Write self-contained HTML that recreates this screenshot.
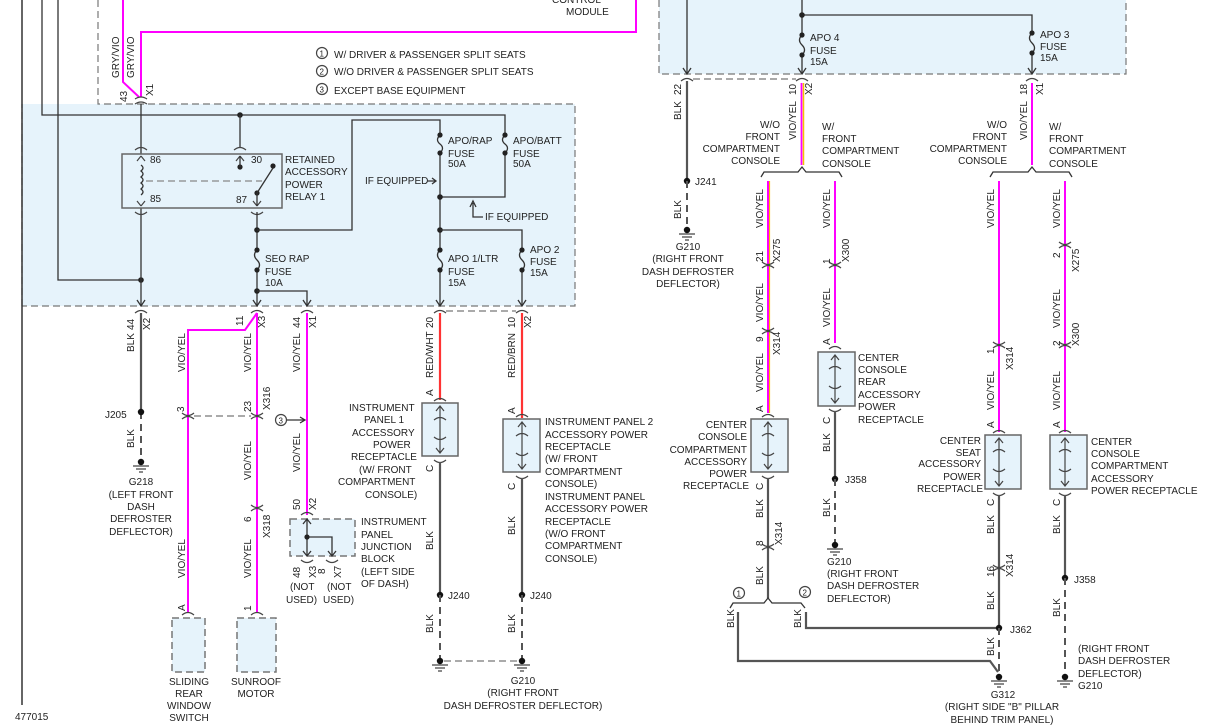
<!DOCTYPE html>
<html><head><meta charset="utf-8"><style>
html,body{margin:0;padding:0;background:#fff;}
svg{display:block;}
text{font-family:"Liberation Sans",Arial,sans-serif;font-size:10px;fill:#222;}
.g{stroke:#555;stroke-width:2.2;fill:none;}
.k{stroke:#333;stroke-width:1.3;fill:none;}
.p{stroke:#f0f;stroke-width:2;fill:none;}
.y{stroke:#f5c000;stroke-width:1;fill:none;}
.r{stroke:#f33;stroke-width:2.2;fill:none;}
.d{stroke:#555;stroke-width:2;fill:none;stroke-dasharray:7,5;}
.dl{stroke:#777;stroke-width:1.2;fill:none;stroke-dasharray:7,4;}
.box{fill:#e6f3fb;stroke:#666;stroke-width:1.5;}
.dbox{fill:#e6f3fb;stroke:#777;stroke-width:1.5;stroke-dasharray:7,4;}
.c{stroke:#444;stroke-width:1.2;fill:none;}
</style></head><body>
<svg width="1206" height="725" viewBox="0 0 1206 725" xmlns="http://www.w3.org/2000/svg">
<!-- blue boxes -->
<rect x="22" y="104" width="553" height="202" fill="#e6f3fb"/>
<path d="M98,0 V104 H575 V306 H22" class="dl"/>
<path d="M22,306 V104" class="dl"/>
<rect x="659" y="-2" width="467" height="76" fill="#e6f3fb"/>
<path d="M659,0 V74 H1126 V0" class="dl"/>

<!-- left frame line -->
<line x1="22" y1="0" x2="22" y2="705" stroke="#333" stroke-width="1.5"/>

<!-- top pink wires -->
<path d="M123,0 V82 L139,97" class="p"/>
<path d="M141,97 V32 H636 V0" class="p"/>
<text transform="rotate(-90 119 78)" x="119" y="78">GRY/VIO</text>
<text transform="rotate(-90 134 78)" x="134" y="78">GRY/VIO</text>
<text transform="rotate(-90 127 102)" x="127" y="102">43</text>
<text transform="rotate(-90 153 96)" x="153" y="96">X1</text>
<text x="552" y="3">CONTROL</text><text x="566" y="15">MODULE</text>

<!-- legend -->
<circle cx="322" cy="53" r="5.5" class="c"/><text x="319.5" y="56.5" style="font-size:8px">1</text>
<text x="334" y="58">W/ DRIVER &amp; PASSENGER SPLIT SEATS</text>
<circle cx="322" cy="71" r="5.5" class="c"/><text x="319.5" y="74.5" style="font-size:8px">2</text>
<text x="334" y="75">W/O DRIVER &amp; PASSENGER SPLIT SEATS</text>
<circle cx="322" cy="89" r="5.5" class="c"/><text x="319.5" y="92.5" style="font-size:8px">3</text>
<text x="334" y="94">EXCEPT BASE EQUIPMENT</text>

<!-- internal left wiring -->
<path d="M42,0 V115 H505 V197 H440" class="k"/>
<path d="M58,0 V280 H141" class="k"/>
<circle cx="141" cy="280" r="2.8" fill="#222"/>
<circle cx="240" cy="115" r="2.8" fill="#222"/>
<path d="M240,115 V148" class="k"/>
<path d="M141,104 V306" class="k"/>
<!-- connector 43 -->
<path d="M135,99 Q141,95 147,99 M135,104 Q141,100 147,104" class="c"/>

<!-- relay -->
<rect x="122" y="154" width="160" height="54" class="box"/>
<path d="M135,150 Q141,145 147,150 M234,150 Q240,145 246,150" class="c"/>
<path d="M135,212 Q141,217 147,212 M251,212 Q257,217 263,212" class="c"/>
<path d="M141,156 L137,161 M141,156 L145,161 M240,156 L236,161 M240,156 L244,161" class="c"/>
<path d="M141,206 L137,201 M141,206 L145,201 M257,206 L253,201 M257,206 L261,201" class="c"/>
<path d="M141,165 q4,3 0,6 q4,3 0,6 q4,3 0,6 q4,3 0,6 q4,3 0,6" class="k"/>
<line x1="146" y1="181" x2="262" y2="181" stroke="#888" stroke-width="1.2" stroke-dasharray="7,4"/>
<circle cx="240" cy="167" r="2.6" fill="#222"/>
<circle cx="273" cy="166" r="2.6" fill="#222"/>
<circle cx="257" cy="193" r="2.6" fill="#222"/>
<path d="M257,193 L273,168 M257,193 V206 M240,156 V167" class="k"/>
<text x="150" y="163">86</text><text x="251" y="163">30</text>
<text x="150" y="202">85</text><text x="236" y="203">87</text>
<text x="285" y="163">RETAINED</text><text x="285" y="175">ACCESSORY</text>
<text x="285" y="188">POWER</text><text x="285" y="200">RELAY 1</text>

<!-- relay 87 to fuses -->
<path d="M257,212 V306" class="k"/>
<circle cx="257" cy="230" r="2.8" fill="#222"/>
<path d="M257,230 H352 V120 H440 V306" class="k"/>
<path d="M505,115 V306" class="k" style="display:none"/>
<circle cx="440" cy="197" r="2.8" fill="#222"/>
<circle cx="440" cy="230" r="2.8" fill="#222"/>
<path d="M440,230 H522 V306" class="k"/>
<circle cx="257" cy="291" r="2.8" fill="#222"/>
<path d="M257,291 H307 V306" class="k"/>
<!-- fuses -->
<g fill="#e6f3fb">
<rect x="436" y="134" width="8" height="20"/><rect x="501" y="134" width="8" height="20"/>
<rect x="436" y="249" width="8" height="22"/><rect x="518" y="249" width="8" height="22"/>
<rect x="253" y="249" width="8" height="22"/>
</g>
<path d="M440,135 q-5,5 0,9 q5,4 0,9 M505,135 q-5,5 0,9 q5,4 0,9 M440,250 q-5,5 0,10 q5,5 0,10 M522,250 q-5,5 0,10 q5,5 0,10 M257,250 q-5,5 0,10 q5,5 0,10" class="k"/>
<g fill="#222">
<circle cx="440" cy="135" r="2.6"/><circle cx="440" cy="153" r="2.6"/>
<circle cx="505" cy="135" r="2.6"/><circle cx="505" cy="153" r="2.6"/>
<circle cx="440" cy="250" r="2.6"/><circle cx="440" cy="270" r="2.6"/>
<circle cx="522" cy="250" r="2.6"/><circle cx="522" cy="270" r="2.6"/>
<circle cx="257" cy="250" r="2.6"/><circle cx="257" cy="270" r="2.6"/>
</g>
<text x="448" y="144">APO/RAP</text><text x="448" y="157">FUSE</text><text x="448" y="167">50A</text>
<text x="513" y="144">APO/BATT</text><text x="513" y="157">FUSE</text><text x="513" y="167">50A</text>
<text x="365" y="184">IF EQUIPPED</text>
<path d="M427,181 H436 M432,178 L436,181 L432,184" class="k"/>
<path d="M473,203 V217 H483 M470,207 L473,201 L476,207" class="k"/>
<text x="485" y="220">IF EQUIPPED</text>
<text x="448" y="262">APO 1/LTR</text><text x="448" y="275">FUSE</text><text x="448" y="286">15A</text>
<text x="530" y="253">APO 2</text><text x="530" y="265">FUSE</text><text x="530" y="276">15A</text>
<text x="265" y="262">SEO RAP</text><text x="265" y="275">FUSE</text><text x="265" y="286">10A</text>
<!-- arrows at bottom of box -->
<path d="M137,300 L141,306 L145,300 M253,300 L257,306 L261,300 M303,300 L307,306 L311,300 M436,300 L440,306 L444,300 M518,300 L522,306 L526,300" class="k"/>
<!-- bottom connectors -->
<path d="M135,313 Q141,308 147,313 M301,313 Q307,308 313,313 M434,313 Q440,308 446,313 M516,313 Q522,308 528,313" class="c"/>
<path d="M446,311 H516" class="dl"/>

<!-- col 141 BLK -->
<path d="M141,313 V412" class="g"/>
<path d="M141,412 V462" class="d"/>
<circle cx="141" cy="412" r="3.2" fill="#111"/>
<circle cx="141" cy="462" r="3.2" fill="#111"/>
<path d="M133,466 H149 M136,469 H146 M139,472 H143" class="c"/>
<text transform="rotate(-90 134 330)" x="134" y="330">44</text>
<text transform="rotate(-90 150 330)" x="150" y="330">X2</text>
<text transform="rotate(-90 134 352)" x="134" y="352">BLK</text>
<text x="105" y="418">J205</text>
<text transform="rotate(-90 134 448)" x="134" y="448">BLK</text>
<text x="141" y="485" text-anchor="middle">G218</text>
<text x="141" y="498" text-anchor="middle">(LEFT FRONT</text>
<text x="141" y="510" text-anchor="middle">DASH</text>
<text x="141" y="522" text-anchor="middle">DEFROSTER</text>
<text x="141" y="535" text-anchor="middle">DEFLECTOR)</text>

<!-- col 257 / 188 pink -->
<path d="M257,313 V613" class="p"/>
<path d="M257,313 L245,330 H188 V613" class="p"/>
<path d="M251,313 Q257,308 263,313" class="c"/>
<path d="M182,413 Q188,418 194,413 M182,419 Q188,414 194,419 M251,413 Q257,418 263,413 M251,419 Q257,414 263,419" class="c"/>
<path d="M194,416 H251" class="dl"/>
<path d="M251,505 Q257,510 263,505 M251,511 Q257,506 263,511" class="c"/>
<path d="M182,615 Q188,610 194,615 M251,615 Q257,610 263,615" class="c"/>
<text transform="rotate(-90 243 326)" x="243" y="326">11</text>
<text transform="rotate(-90 265 328)" x="265" y="328">X3</text>
<text transform="rotate(-90 185 372)" x="185" y="372">VIO/YEL</text>
<text transform="rotate(-90 251 372)" x="251" y="372">VIO/YEL</text>
<text transform="rotate(-90 184 412)" x="184" y="412">3</text>
<text transform="rotate(-90 251 412)" x="251" y="412">23</text>
<text transform="rotate(-90 270 410)" x="270" y="410">X316</text>
<text transform="rotate(-90 251 480)" x="251" y="480">VIO/YEL</text>
<text transform="rotate(-90 251 522)" x="251" y="522">6</text>
<text transform="rotate(-90 270 538)" x="270" y="538">X318</text>
<text transform="rotate(-90 185 578)" x="185" y="578">VIO/YEL</text>
<text transform="rotate(-90 251 578)" x="251" y="578">VIO/YEL</text>
<text transform="rotate(-90 185 611)" x="185" y="611">A</text>
<text transform="rotate(-90 251 611)" x="251" y="611">1</text>
<rect x="172" y="618" width="33" height="54" class="dbox"/>
<rect x="237" y="618" width="39" height="54" class="dbox"/>
<text x="189" y="685" text-anchor="middle">SLIDING</text>
<text x="189" y="697" text-anchor="middle">REAR</text>
<text x="189" y="709" text-anchor="middle">WINDOW</text>
<text x="189" y="721" text-anchor="middle">SWITCH</text>
<text x="256" y="685" text-anchor="middle">SUNROOF</text>
<text x="256" y="697" text-anchor="middle">MOTOR</text>

<!-- col 307 pink -->
<path d="M307,313 V515" class="p"/>
<text transform="rotate(-90 300 328)" x="300" y="328">44</text>
<text transform="rotate(-90 316 328)" x="316" y="328">X1</text>
<text transform="rotate(-90 300 372)" x="300" y="372">VIO/YEL</text>
<circle cx="281" cy="420" r="5.5" class="c"/><text x="278.5" y="423.5" style="font-size:8px">3</text>
<path d="M287,420 H305 M300,417 L305,420 L300,423" class="k"/>
<text transform="rotate(-90 300 472)" x="300" y="472">VIO/YEL</text>
<text transform="rotate(-90 300 510)" x="300" y="510">50</text>
<text transform="rotate(-90 316 510)" x="316" y="510">X2</text>
<path d="M301,515 Q307,510 313,515" class="c"/>
<rect x="290" y="519" width="65" height="37" class="dbox"/>
<path d="M307,519 V556 M307,537 H332 V556" class="k"/>
<circle cx="307" cy="537" r="2.6" fill="#222"/>
<path d="M303,524 L307,519 L311,524 M303,551 L307,556 L311,551 M328,551 L332,556 L336,551" class="k"/>
<path d="M301,560 Q307,565 313,560 M326,560 Q332,565 338,560" class="c"/>
<text transform="rotate(-90 300 578)" x="300" y="578">48</text>
<text transform="rotate(-90 316 578)" x="316" y="578">X3</text>
<text transform="rotate(-90 325 574)" x="325" y="574">8</text>
<text transform="rotate(-90 341 578)" x="341" y="578">X7</text>
<text x="290" y="590">(NOT</text><text x="327" y="590">(NOT</text>
<text x="286" y="603">USED)</text><text x="323" y="603">USED)</text>
<text x="361" y="525">INSTRUMENT</text><text x="361" y="538">PANEL</text>
<text x="361" y="550">JUNCTION</text><text x="361" y="562">BLOCK</text>
<text x="361" y="575">(LEFT SIDE</text><text x="361" y="587">OF DASH)</text>

<!-- col 440 red -->
<path d="M440,313 V400" class="r"/>
<text transform="rotate(-90 433 328)" x="433" y="328">20</text>
<text transform="rotate(-90 433 378)" x="433" y="378">RED/WHT</text>
<text transform="rotate(-90 433 396)" x="433" y="396">A</text>
<path d="M434,401 Q440,396 446,401" class="c"/>
<rect x="422" y="403" width="36" height="53" class="box"/>
<path d="M436,411 L440,406 L444,411 M440,406 V453 M436,448 L440,453 L444,448 M434,420 Q440,415 446,420 M434,437 Q440,442 446,437" class="c"/>
<path d="M434,460 Q440,465 446,460" class="c"/>
<text transform="rotate(-90 433 472)" x="433" y="472">C</text>
<path d="M440,462 V595" class="g"/>
<text transform="rotate(-90 433 550)" x="433" y="550">BLK</text>
<circle cx="440" cy="595" r="3.2" fill="#111"/>
<text x="448" y="599">J240</text>
<path d="M440,595 V661" class="d"/>
<text transform="rotate(-90 433 633)" x="433" y="633">BLK</text>
<circle cx="440" cy="661" r="3.2" fill="#111"/>
<path d="M432,665 H448 M435,668 H445 M438,671 H442" class="c"/>
<text x="349" y="411">INSTRUMENT</text><text x="364" y="423">PANEL 1</text>
<text x="352" y="436">ACCESSORY</text><text x="373" y="448">POWER</text>
<text x="351" y="460">RECEPTACLE</text><text x="359" y="473">(W/ FRONT</text>
<text x="338" y="485">COMPARTMENT</text><text x="365" y="498">CONSOLE)</text>

<!-- col 522 red -->
<path d="M522,313 V418" class="r"/>
<text transform="rotate(-90 515 328)" x="515" y="328">10</text>
<text transform="rotate(-90 531 328)" x="531" y="328">X2</text>
<text transform="rotate(-90 515 378)" x="515" y="378">RED/BRN</text>
<text transform="rotate(-90 515 414)" x="515" y="414">A</text>
<path d="M516,417 Q522,412 528,417" class="c"/>
<rect x="503" y="419" width="37" height="53" class="box"/>
<path d="M518,427 L522,422 L526,427 M522,422 V469 M518,464 L522,469 L526,464 M516,436 Q522,431 528,436 M516,453 Q522,458 528,453" class="c"/>
<path d="M516,476 Q522,481 528,476" class="c"/>
<text transform="rotate(-90 515 490)" x="515" y="490">C</text>
<path d="M522,478 V595" class="g"/>
<text transform="rotate(-90 515 535)" x="515" y="535">BLK</text>
<circle cx="522" cy="595" r="3.2" fill="#111"/>
<text x="530" y="599">J240</text>
<path d="M522,595 V661" class="d"/>
<text transform="rotate(-90 515 633)" x="515" y="633">BLK</text>
<circle cx="522" cy="661" r="3.2" fill="#111"/>
<path d="M514,665 H530 M517,668 H527 M520,671 H524" class="c"/>
<path d="M444,661 H518" class="dl"/>
<text x="523" y="684" text-anchor="middle">G210</text>
<text x="523" y="696" text-anchor="middle">(RIGHT FRONT</text>
<text x="523" y="709" text-anchor="middle">DASH DEFROSTER DEFLECTOR)</text>
<text x="545" y="425">INSTRUMENT PANEL 2</text><text x="545" y="438">ACCESSORY POWER</text>
<text x="545" y="450">RECEPTACLE</text><text x="545" y="462">(W/ FRONT</text>
<text x="545" y="475">COMPARTMENT</text><text x="545" y="487">CONSOLE)</text>
<text x="545" y="500">INSTRUMENT PANEL</text><text x="545" y="512">ACCESSORY POWER</text>
<text x="545" y="525">RECEPTACLE</text><text x="545" y="537">(W/O FRONT</text>
<text x="545" y="549">COMPARTMENT</text><text x="545" y="562">CONSOLE)</text>

<text x="15" y="720">477015</text>

<!-- ===== RIGHT SIDE ===== -->
<path d="M687,0 V74 M802,0 V74 M802,15 H1032 V74" class="k"/>
<circle cx="802" cy="15" r="2.8" fill="#222"/>
<rect x="798" y="34" width="8" height="22" fill="#e6f3fb"/>
<rect x="1028" y="32" width="8" height="22" fill="#e6f3fb"/>
<path d="M802,35 q-5,5 0,10 q5,5 0,10 M1032,33 q-5,5 0,10 q5,5 0,10" class="k"/>
<g fill="#222"><circle cx="802" cy="35" r="2.6"/><circle cx="802" cy="55" r="2.6"/><circle cx="1032" cy="33" r="2.6"/><circle cx="1032" cy="53" r="2.6"/></g>
<text x="810" y="41">APO 4</text><text x="810" y="54">FUSE</text><text x="810" y="65">15A</text>
<text x="1040" y="38">APO 3</text><text x="1040" y="50">FUSE</text><text x="1040" y="61">15A</text>
<path d="M683,68 L687,74 L691,68 M798,68 L802,74 L806,68 M1028,68 L1032,74 L1036,68" class="k"/>
<path d="M681,81 Q687,76 693,81 M796,81 Q802,76 808,81 M1026,81 Q1032,76 1038,81" class="c"/>
<path d="M693,79 H796" class="dl"/>

<!-- 687 -->
<path d="M687,81 V181" class="g"/>
<text transform="rotate(-90 681 95)" x="681" y="95">22</text>
<text transform="rotate(-90 681 120)" x="681" y="120">BLK</text>
<circle cx="687" cy="181" r="3.2" fill="#111"/>
<text x="695" y="185">J241</text>
<path d="M687,181 V230" class="d"/>
<text transform="rotate(-90 681 219)" x="681" y="219">BLK</text>
<circle cx="687" cy="230" r="3.2" fill="#111"/>
<path d="M679,234 H695 M682,237 H692 M685,240 H689" class="c"/>
<text x="688" y="250" text-anchor="middle">G210</text>
<text x="688" y="262" text-anchor="middle">(RIGHT FRONT</text>
<text x="688" y="275" text-anchor="middle">DASH DEFROSTER</text>
<text x="688" y="287" text-anchor="middle">DEFLECTOR)</text>

<!-- 802 -->
<path d="M803.5,83 V165" class="y" style="stroke-width:1.5"/>
<path d="M801.5,83 V165" class="p" style="stroke-width:1.8"/>
<text transform="rotate(-90 796 95)" x="796" y="95">10</text>
<text transform="rotate(-90 812 95)" x="812" y="95">X2</text>
<text transform="rotate(-90 796 140)" x="796" y="140">VIO/YEL</text>
<text x="780" y="128" text-anchor="end">W/O</text>
<text x="780" y="140" text-anchor="end">FRONT</text>
<text x="780" y="152" text-anchor="end">COMPARTMENT</text>
<text x="780" y="164" text-anchor="end">CONSOLE</text>
<text x="822" y="130">W/</text><text x="822" y="142">FRONT</text>
<text x="822" y="154">COMPARTMENT</text><text x="822" y="167">CONSOLE</text>
<path d="M761,177 L764,172 H798 L802,167 L806,172 H839 L842,177" class="k"/>

<!-- 1032 -->
<path d="M1032,83 V165" class="p"/>
<text transform="rotate(-90 1027 95)" x="1027" y="95">18</text>
<text transform="rotate(-90 1043 95)" x="1043" y="95">X1</text>
<text transform="rotate(-90 1027 140)" x="1027" y="140">VIO/YEL</text>
<text x="1007" y="128" text-anchor="end">W/O</text>
<text x="1007" y="140" text-anchor="end">FRONT</text>
<text x="1007" y="152" text-anchor="end">COMPARTMENT</text>
<text x="1007" y="164" text-anchor="end">CONSOLE</text>
<text x="1049" y="130">W/</text><text x="1049" y="142">FRONT</text>
<text x="1049" y="154">COMPARTMENT</text><text x="1049" y="167">CONSOLE</text>
<path d="M990,177 L993,172 H1028 L1032,167 L1036,172 H1069 L1072,177" class="k"/>

<!-- 768 -->
<path d="M769.5,181 V413" class="y" style="stroke-width:1.2"/>
<path d="M768,181 V413" class="p"/>
<text transform="rotate(-90 763 228)" x="763" y="228">VIO/YEL</text>
<path d="M762,262 Q768,267 774,262 M762,268 Q768,263 774,268" class="c"/>
<text transform="rotate(-90 763 262)" x="763" y="262">21</text>
<text transform="rotate(-90 780 262)" x="780" y="262">X275</text>
<text transform="rotate(-90 763 322)" x="763" y="322">VIO/YEL</text>
<path d="M762,328 Q768,333 774,328 M762,334 Q768,329 774,334" class="c"/>
<text transform="rotate(-90 763 342)" x="763" y="342">9</text>
<text transform="rotate(-90 780 355)" x="780" y="355">X314</text>
<text transform="rotate(-90 763 392)" x="763" y="392">VIO/YEL</text>
<text transform="rotate(-90 763 412)" x="763" y="412">A</text>
<path d="M762,417 Q768,412 774,417" class="c"/>
<rect x="751" y="419" width="37" height="53" class="box"/>
<path d="M764,427 L768,422 L772,427 M768,422 V469 M764,464 L768,469 L772,464 M762,436 Q768,431 774,436 M762,453 Q768,458 774,453" class="c"/>
<path d="M762,476 Q768,481 774,476" class="c"/>
<text transform="rotate(-90 763 490)" x="763" y="490">C</text>
<path d="M768,478 V598" class="g"/>
<text transform="rotate(-90 763 518)" x="763" y="518">BLK</text>
<path d="M762,544 Q768,549 774,544 M762,550 Q768,545 774,550" class="c"/>
<text transform="rotate(-90 763 546)" x="763" y="546">8</text>
<text transform="rotate(-90 782 545)" x="782" y="545">X314</text>
<text transform="rotate(-90 763 585)" x="763" y="585">BLK</text>
<text x="747" y="428" text-anchor="end">CENTER</text>
<text x="747" y="440" text-anchor="end">CONSOLE</text>
<text x="747" y="453" text-anchor="end">COMPARTMENT</text>
<text x="747" y="465" text-anchor="end">ACCESSORY</text>
<text x="747" y="477" text-anchor="end">POWER</text>
<text x="749" y="489" text-anchor="end">RECEPTACLE</text>
<path d="M730,608 L733,603 H764 L768,598 L772,603 H801 L805,608" class="k"/>
<circle cx="739" cy="593" r="5.5" class="c"/><text x="736.5" y="596.5" style="font-size:8px">1</text>
<circle cx="805" cy="592" r="5.5" class="c"/><text x="802.5" y="595.5" style="font-size:8px">2</text>
<path d="M738,612 V661 H990 L998,672" class="g"/>
<path d="M806,612 V628 H999" class="g"/>
<text transform="rotate(-90 734 628)" x="734" y="628">BLK</text>
<text transform="rotate(-90 801 628)" x="801" y="628">BLK</text>

<!-- 835 -->
<path d="M835,181 V343" class="p"/>
<text transform="rotate(-90 830 228)" x="830" y="228">VIO/YEL</text>
<path d="M829,262 Q835,267 841,262 M829,268 Q835,263 841,268" class="c"/>
<text transform="rotate(-90 830 264)" x="830" y="264">1</text>
<text transform="rotate(-90 849 262)" x="849" y="262">X300</text>
<text transform="rotate(-90 830 327)" x="830" y="327">VIO/YEL</text>
<text transform="rotate(-90 830 345)" x="830" y="345">A</text>
<path d="M829,349 Q835,344 841,349" class="c"/>
<rect x="818" y="352" width="37" height="54" class="box"/>
<path d="M831,360 L835,355 L839,360 M835,355 V403 M831,398 L835,403 L839,398 M829,369 Q835,364 841,369 M829,386 Q835,391 841,386" class="c"/>
<path d="M829,409 Q835,414 841,409" class="c"/>
<text transform="rotate(-90 830 424)" x="830" y="424">C</text>
<path d="M835,411 V479" class="g"/>
<text transform="rotate(-90 830 452)" x="830" y="452">BLK</text>
<circle cx="835" cy="479" r="3.2" fill="#111"/>
<text x="845" y="483">J358</text>
<path d="M835,479 V545" class="d"/>
<text transform="rotate(-90 830 517)" x="830" y="517">BLK</text>
<circle cx="835" cy="545" r="3.2" fill="#111"/>
<path d="M827,549 H843 M830,552 H840 M833,555 H837" class="c"/>
<text x="827" y="565">G210</text><text x="827" y="577">(RIGHT FRONT</text>
<text x="827" y="589">DASH DEFROSTER</text><text x="827" y="602">DEFLECTOR)</text>
<text x="858" y="361">CENTER</text><text x="858" y="373">CONSOLE</text>
<text x="858" y="385">REAR</text><text x="858" y="398">ACCESSORY</text>
<text x="858" y="410">POWER</text><text x="858" y="423">RECEPTACLE</text>

<!-- 999 -->
<path d="M999,181 V432" class="p"/>
<text transform="rotate(-90 994 228)" x="994" y="228">VIO/YEL</text>
<path d="M993,342 Q999,347 1005,342 M993,348 Q999,343 1005,348" class="c"/>
<text transform="rotate(-90 994 354)" x="994" y="354">1</text>
<text transform="rotate(-90 1013 370)" x="1013" y="370">X314</text>
<text transform="rotate(-90 994 410)" x="994" y="410">VIO/YEL</text>
<text transform="rotate(-90 994 428)" x="994" y="428">A</text>
<path d="M993,433 Q999,428 1005,433" class="c"/>
<rect x="985" y="435" width="36" height="54" class="box"/>
<path d="M995,443 L999,438 L1003,443 M999,438 V486 M995,481 L999,486 L1003,481 M993,452 Q999,447 1005,452 M993,469 Q999,474 1005,469" class="c"/>
<path d="M993,493 Q999,498 1005,493" class="c"/>
<text transform="rotate(-90 994 506)" x="994" y="506">C</text>
<path d="M999,495 V628" class="g"/>
<text transform="rotate(-90 994 534)" x="994" y="534">BLK</text>
<path d="M993,565 Q999,570 1005,565 M993,571 Q999,566 1005,571" class="c"/>
<text transform="rotate(-90 994 577)" x="994" y="577">16</text>
<text transform="rotate(-90 1013 577)" x="1013" y="577">X314</text>
<text transform="rotate(-90 994 610)" x="994" y="610">BLK</text>
<circle cx="999" cy="628" r="3.2" fill="#111"/>
<text x="1010" y="633">J362</text>
<path d="M999,628 V677" class="d"/>
<text transform="rotate(-90 994 656)" x="994" y="656">BLK</text>
<circle cx="999" cy="677" r="3.2" fill="#111"/>
<path d="M991,681 H1007 M994,684 H1004 M997,687 H1001" class="c"/>
<text x="1003" y="698" text-anchor="middle">G312</text>
<text x="1002" y="710" text-anchor="middle">(RIGHT SIDE "B" PILLAR</text>
<text x="1002" y="723" text-anchor="middle">BEHIND TRIM PANEL)</text>
<text x="981" y="444" text-anchor="end">CENTER</text>
<text x="981" y="456" text-anchor="end">SEAT</text>
<text x="981" y="467" text-anchor="end">ACCESSORY</text>
<text x="981" y="480" text-anchor="end">POWER</text>
<text x="983" y="492" text-anchor="end">RECEPTACLE</text>

<!-- 1065 -->
<path d="M1065,181 V432" class="p"/>
<text transform="rotate(-90 1060 228)" x="1060" y="228">VIO/YEL</text>
<path d="M1059,242 Q1065,247 1071,242 M1059,248 Q1065,243 1071,248" class="c"/>
<text transform="rotate(-90 1060 258)" x="1060" y="258">2</text>
<text transform="rotate(-90 1079 272)" x="1079" y="272">X275</text>
<text transform="rotate(-90 1060 328)" x="1060" y="328">VIO/YEL</text>
<path d="M1059,342 Q1065,347 1071,342 M1059,348 Q1065,343 1071,348" class="c"/>
<text transform="rotate(-90 1060 346)" x="1060" y="346">2</text>
<text transform="rotate(-90 1079 346)" x="1079" y="346">X300</text>
<text transform="rotate(-90 1060 410)" x="1060" y="410">VIO/YEL</text>
<text transform="rotate(-90 1060 428)" x="1060" y="428">A</text>
<path d="M1059,433 Q1065,428 1071,433" class="c"/>
<rect x="1050" y="435" width="37" height="54" class="box"/>
<path d="M1061,443 L1065,438 L1069,443 M1065,438 V486 M1061,481 L1065,486 L1069,481 M1059,452 Q1065,447 1071,452 M1059,469 Q1065,474 1071,469" class="c"/>
<path d="M1059,493 Q1065,498 1071,493" class="c"/>
<text transform="rotate(-90 1060 506)" x="1060" y="506">C</text>
<path d="M1065,495 V578" class="g"/>
<text transform="rotate(-90 1060 534)" x="1060" y="534">BLK</text>
<circle cx="1065" cy="578" r="3.2" fill="#111"/>
<text x="1074" y="583">J358</text>
<path d="M1065,578 V677" class="d"/>
<text transform="rotate(-90 1060 617)" x="1060" y="617">BLK</text>
<circle cx="1065" cy="677" r="3.2" fill="#111"/>
<path d="M1057,681 H1073 M1060,684 H1070 M1063,687 H1067" class="c"/>
<text x="1078" y="652">(RIGHT FRONT</text><text x="1078" y="664">DASH DEFROSTER</text>
<text x="1078" y="677">DEFLECTOR)</text><text x="1078" y="689">G210</text>
<text x="1091" y="445">CENTER</text><text x="1091" y="457">CONSOLE</text>
<text x="1091" y="469">COMPARTMENT</text><text x="1091" y="482">ACCESSORY</text>
<text x="1091" y="494">POWER RECEPTACLE</text>
</svg>
</body></html>
